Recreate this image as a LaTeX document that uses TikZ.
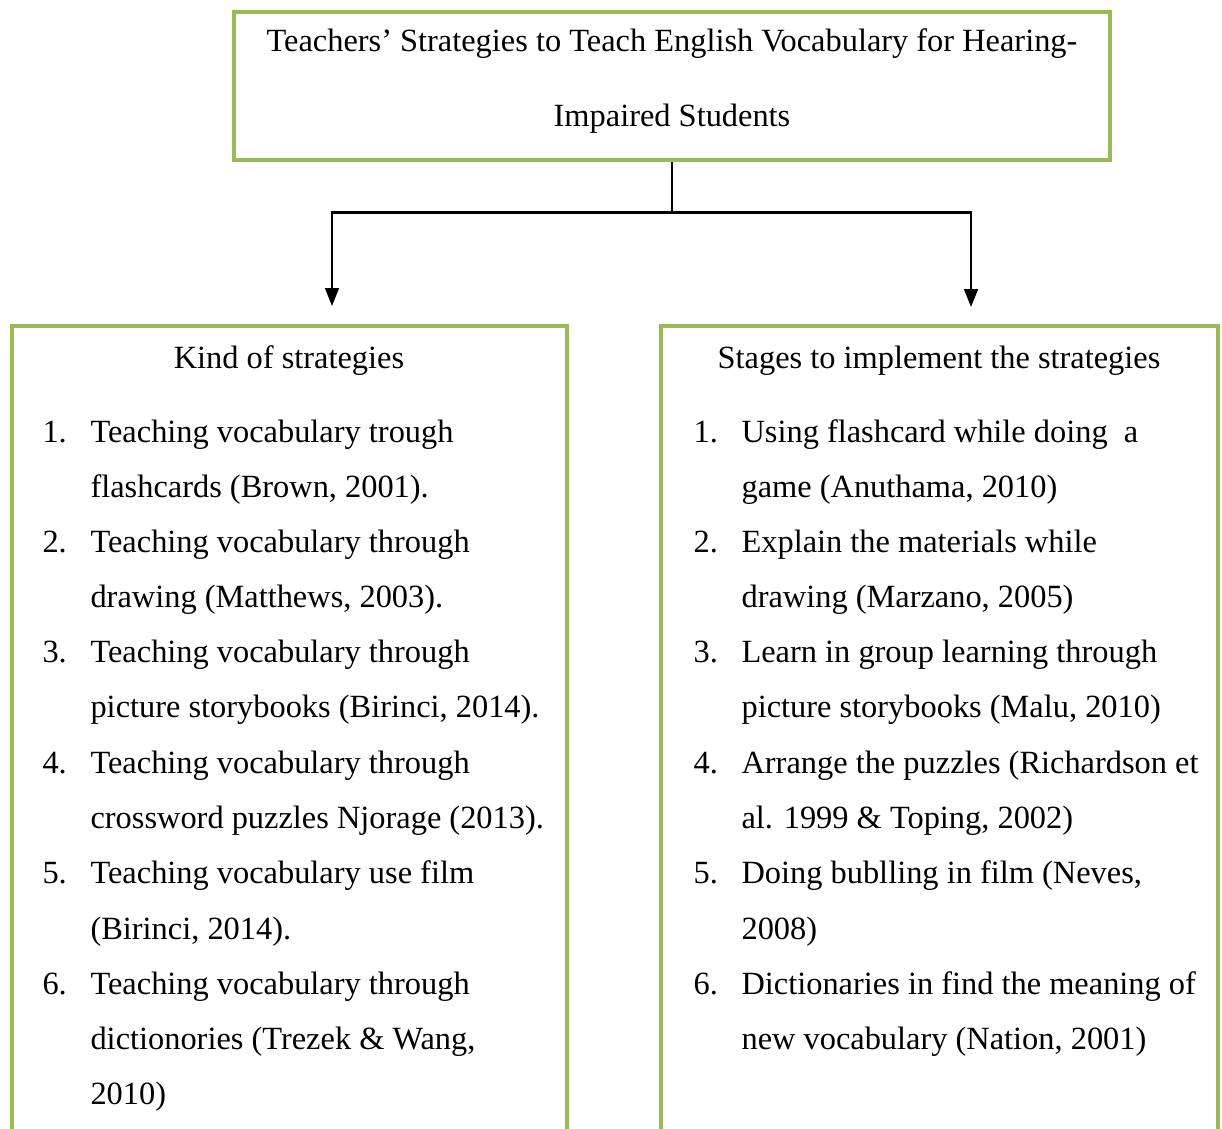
\documentclass[tikz,border=0pt]{standalone}
\usepackage{fontspec}
\setmainfont{Liberation Serif}
\usetikzlibrary{arrows.meta}
\definecolor{boxgreen}{RGB}{155,187,89}
\begin{document}
\begin{tikzpicture}[x=0.0128cm,y=-0.0128cm,
    greenbox/.style={draw=boxgreen, line width=1.8pt, inner sep=0pt},
    txt/.style={anchor=base west, inner sep=0pt, font=\fontsize{11.8}{14}\selectfont},
    head/.style={anchor=base, inner sep=0pt, font=\fontsize{11.8}{14}\selectfont},
    conn/.style={line width=0.75pt},
    arrow/.style={conn, -{Triangle[width=5pt,length=6.5pt]}}]
    \useasboundingbox (0,0) rectangle (1222,1128);
    \clip (0,0) rectangle (1222,1128);
    % boxes
    \node[greenbox, minimum width=876*0.0128cm, minimum height=148*0.0128cm] (title) at (672,86) {};
    \node[greenbox, minimum width=555*0.0128cm, minimum height=874*0.0128cm] (kinds) at (289.5,763) {};
    \node[greenbox, minimum width=557*0.0128cm, minimum height=874*0.0128cm] (stages) at (939.5,763) {};
    \node[head] (t1) at (672,52) {Teachers’ Strategies to Teach English Vocabulary for Hearing-};
    \node[head] (t2) at (672,126) {Impaired Students};
    % connectors
    \coordinate (kindin) at (332,306);
    \coordinate (stagein) at (971,307);
    \draw[conn] (title.south) -- ++(0,50) coordinate (split);
    \draw[arrow] (split) -| (kindin);
    \draw[arrow] (split) -| (stagein);
    % left list
    \node[head] (kh) at (289,368) {Kind of strategies};
    \foreach \n/\y in {1/442,2/552,3/662,4/773,5/883,6/994}
        \node[txt] (kn\n) at (42,\y) {\n.};
    \foreach \y/\t [count=\i] in {442/{Teaching vocabulary trough},
        497/{flashcards (Brown, 2001).},
        552/{Teaching vocabulary through},
        607/{drawing (Matthews, 2003).},
        662/{Teaching vocabulary through},
        717/{picture storybooks (Birinci, 2014).},
        773/{Teaching vocabulary through},
        828/{crossword puzzles Njorage (2013).},
        883/{Teaching vocabulary use film},
        939/{(Birinci, 2014).},
        994/{Teaching vocabulary through},
        1049/{dictionories (Trezek \& Wang,},
        1104/{2010)}}
        \node[txt] (kl\i) at (90,\y) {\t};
    % right list
    \node[head] (sh) at (939,368) {Stages to implement the strategies};
    \foreach \n/\y in {1/442,2/552,3/662,4/773,5/883,6/994}
        \node[txt] (sn\n) at (693,\y) {\n.};
    \foreach \y/\t [count=\i] in {442/{Using flashcard while doing\ \ a},
        497/{game (Anuthama, 2010)},
        552/{Explain the materials while},
        607/{drawing (Marzano, 2005)},
        662/{Learn in group learning through},
        717/{picture storybooks (Malu, 2010)},
        773/{Arrange the puzzles (Richardson et},
        828/{al. 1999 \& Toping, 2002)},
        883/{Doing bublling in film (Neves,},
        939/{2008)},
        994/{Dictionaries in find the meaning of},
        1049/{new vocabulary (Nation, 2001)}}
        \node[txt] (sl\i) at (741,\y) {\t};
\end{tikzpicture}
\end{document}
